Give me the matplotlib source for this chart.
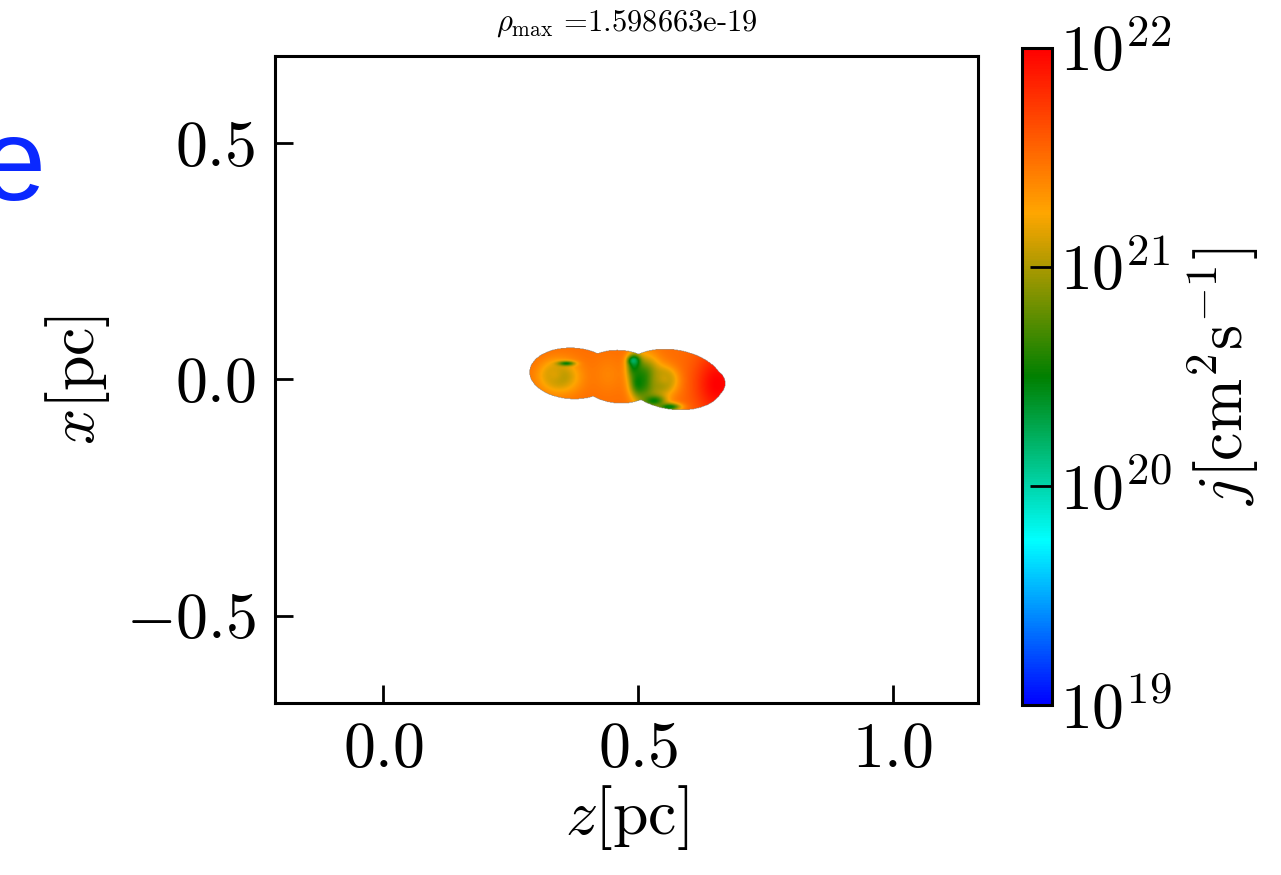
import numpy as np
import matplotlib
matplotlib.use("Agg")
import matplotlib.pyplot as plt
from matplotlib.colors import LinearSegmentedColormap, LogNorm

plt.rcParams['mathtext.fontset'] = 'cm'
plt.rcParams['font.family'] = 'serif'
plt.rcParams['font.serif'] = ['cmr10']
plt.rcParams['axes.formatter.use_mathtext'] = True

# axis ranges and ticks
z_lim = [-0.212, 1.167]
x_lim = [-0.685, 0.685]
z_ticks = [0.0, 0.5, 1.0]
z_labels = [r'$0.0$', r'$0.5$', r'$1.0$']
x_ticks = [-0.5, 0.0, 0.5]
x_labels = [r'$-0.5$', r'$0.0$', r'$0.5$']
j_ticks = [1e19, 1e20, 1e21, 1e22]
j_labels = [r'$10^{19}$', r'$10^{20}$', r'$10^{21}$', r'$10^{22}$']
rho_max = '1.598663e-19'

# cloud outline: ellipses (z centre, x centre, semi z, semi x, tilt deg)
lobe_z = [0.370, 0.462, 0.567, 0.640]
lobe_x = [0.013, 0.006, 0.000, -0.008]
lobe_a = [0.084, 0.080, 0.100, 0.030]
lobe_b = [0.054, 0.056, 0.063, 0.030]
lobe_tilt = [-3, -4, -10, -20]

# log10 j features, blended in order: (z, x, width z, width x, log10 j)
base_logj = 21.5
feat_z = [0.345, 0.333, 0.358, 0.440, 0.515, 0.545, 0.655, 0.552,
          0.492, 0.500, 0.530, 0.560, 0.490]
feat_x = [0.006, 0.012, 0.034, 0.010, 0.000, -0.005, -0.010, 0.003,
          0.030, -0.005, -0.045, -0.058, 0.040]
feat_wz = [0.040, 0.020, 0.016, 0.030, 0.025, 0.030, 0.045, 0.018,
           0.014, 0.016, 0.022, 0.022, 0.010]
feat_wx = [0.035, 0.020, 0.005, 0.040, 0.045, 0.030, 0.070, 0.018,
           0.025, 0.030, 0.012, 0.008, 0.009]
feat_val = [21.0, 21.15, 20.5, 21.4, 20.6, 20.9, 22.0, 21.1,
            20.45, 20.5, 20.5, 20.45, 20.2]

cmap = LinearSegmentedColormap.from_list(
    'jmap', [(0.0, (0, 0, 1)), (0.25, (0, 1, 1)), (0.5, (0, 0.5, 0)),
             (0.75, (1, 0.65, 0)), (1.0, (1, 0, 0))])

zz, xx = np.meshgrid(np.linspace(0.25, 0.72, 400), np.linspace(-0.1, 0.1, 170))
inside = np.zeros_like(zz, dtype=bool)
for zc, xc, a, b, t in zip(lobe_z, lobe_x, lobe_a, lobe_b, lobe_tilt):
    th = np.deg2rad(t)
    u = (zz - zc) * np.cos(th) + (xx - xc) * np.sin(th)
    v = -(zz - zc) * np.sin(th) + (xx - xc) * np.cos(th)
    inside |= (u / a) ** 2 + (v / b) ** 2 <= 1
logj = np.full_like(zz, base_logj)
for zc, xc, wz, wx, val in zip(feat_z, feat_x, feat_wz, feat_wx, feat_val):
    w = np.exp(-((zz - zc) / wz) ** 2 - ((xx - xc) / wx) ** 2)
    logj = logj * (1 - w) + val * w
j = np.ma.masked_where(~inside, 10 ** logj)

fig = plt.figure(figsize=(12.81, 8.75), dpi=100)
ax = fig.add_axes([0.2147, 0.1966, 0.5488, 0.7394])
im = ax.imshow(j, extent=[0.25, 0.72, -0.1, 0.1], origin='lower', cmap=cmap,
               norm=LogNorm(vmin=1e19, vmax=1e22), interpolation='bilinear',
               aspect='auto')
ax.set_xlim(z_lim)
ax.set_ylim(x_lim)
ax.set_xticks(z_ticks)
ax.set_xticklabels(z_labels)
ax.set_yticks(x_ticks)
ax.set_yticklabels(x_labels)
ax.tick_params(direction='in', length=13, width=2, labelsize=46, pad=14)
for s in ax.spines.values():
    s.set_linewidth(2.2)
ax.set_xlabel(r'$z[\rm pc]$', fontsize=46, labelpad=2)
ax.set_ylabel(r'$x[\rm pc]$', fontsize=46, labelpad=10)
ax.set_title(r'$\rho_{\rm max}$ =' + rho_max, fontsize=22, pad=18)

cax = fig.add_axes([0.7975, 0.194, 0.0235, 0.751])
cb = fig.colorbar(im, cax=cax)
cb.set_ticks(j_ticks)
cb.set_ticklabels(j_labels)
cb.minorticks_off()
cb.outline.set_linewidth(2.2)
cax.tick_params(direction='in', length=16, width=2, labelsize=46, pad=6)
cb.set_label(r'$j[\rm cm^2 s^{-1}]$', fontsize=46, labelpad=10)

fig.text(46 / 1281, 1 - 200 / 875, 'e', ha='right', va='baseline',
         fontsize=84, color='#0a28ff', family='Liberation Sans')

fig.savefig('out.png', dpi=100)
